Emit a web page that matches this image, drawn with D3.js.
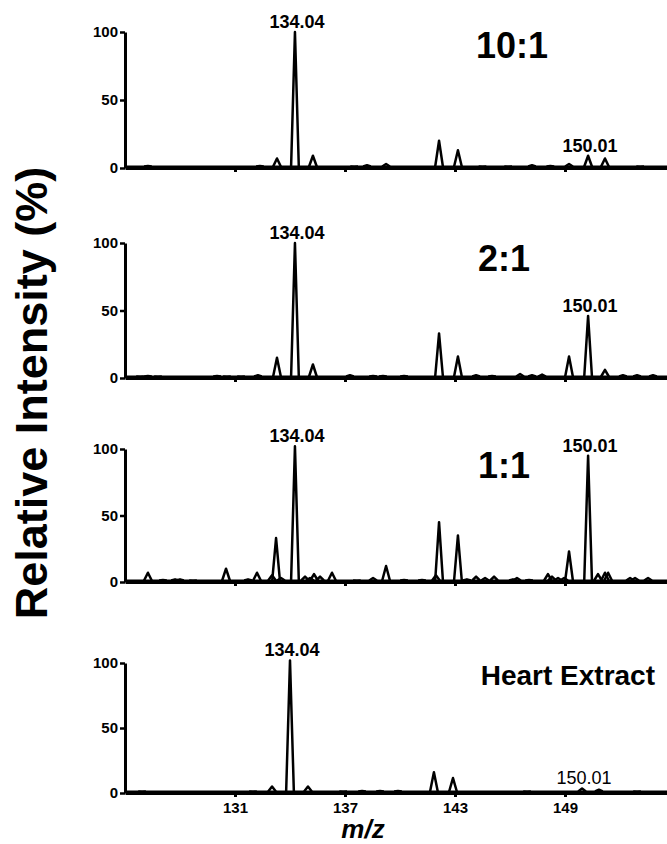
<!DOCTYPE html>
<html>
<head>
<meta charset="utf-8">
<script src="https://cdn.jsdelivr.net/npm/d3@7"></script>
<style>
  body { margin: 0; background: #fff; }
  svg { display: block; font-family: "Liberation Sans", Arial, sans-serif; }
</style>
</head>
<body>
<div class="canvas"></div>
<script>
// ---- data: [m/z, relative intensity %]
const mzTicks = [131, 137, 143, 149];
const intensityTicks = [0, 50, 100];
const panelNames = ["10:1", "2:1", "1:1", "Heart Extract"];

const peaks10to1 = [
    [126.25, 1.5], [132.36, 1.5], [133.29, 7], [134.27, 100], [135.25, 9],
    [137.5, 1], [138.2, 2], [139.24, 3], [142.13, 20], [143.16, 13],
    [144.5, 1], [145.9, 1], [147.2, 2], [148.2, 1.5], [149.22, 3],
    [150.26, 9], [151.18, 7], [153.1, 1]
];
const peaks2to1 = [
    [125.82, 1], [126.25, 1.5], [126.8, 1], [130.02, 1.5], [130.56, 1],
    [131.33, 1], [132.25, 2], [133.29, 15], [134.27, 100], [135.25, 10],
    [137.27, 2], [138.53, 1.5], [139.07, 1.5], [140.22, 1.5], [142.13, 33],
    [143.16, 16], [144.15, 2], [145.02, 1.5], [146.55, 3], [147.2, 2],
    [147.75, 2.5], [149.22, 16], [150.26, 46], [151.18, 6], [152.16, 2],
    [152.93, 2], [153.8, 2]
];
const peaks1to1 = [
    [126.25, 7], [127.07, 1.5], [127.73, 2], [128.0, 2], [128.71, 1],
    [130.51, 10], [131.71, 2], [132.2, 7], [133.02, 5], [133.24, 33],
    [133.51, 3], [134.27, 102], [134.82, 4], [135.09, 3], [135.31, 6],
    [135.64, 4], [136.29, 7], [137.65, 1], [138.53, 3], [139.24, 12],
    [140.22, 1.5], [141.2, 1.5], [141.96, 5], [142.13, 45], [143.16, 35],
    [143.65, 2], [144.15, 4], [144.64, 3], [145.13, 4], [146.16, 2],
    [146.38, 3], [147.04, 1.5], [148.07, 6], [148.29, 4], [148.62, 3],
    [148.95, 3], [149.22, 23], [150.26, 95], [150.8, 6], [151.18, 7],
    [151.35, 7], [152.55, 3], [152.82, 3], [153.53, 3]
];
const peaksHeart = [
    [125.93, 1], [131.98, 1], [133.02, 5], [134.0, 102], [134.98, 5],
    [136.9, 1], [137.93, 1.5], [138.91, 1.5], [139.89, 1.5], [141.85, 16],
    [142.89, 11.5], [146.93, 1], [149.93, 3.5], [150.85, 2.5], [152.93, 1]
];
const panelPeaks = [peaks10to1, peaks2to1, peaks1to1, peaksHeart];

// labelled peaks per panel: [m/z of peak, label]
const labels10to1 = [[134.27, "134.04"], [150.26, "150.01"]];
const labels2to1 = [[134.27, "134.04"], [150.26, "150.01"]];
const labels1to1 = [[134.27, "134.04"], [150.26, "150.01"]];
const labelsHeart = [[134.0, "134.04"], [149.93, "150.01"]];
const panelLabels = [labels10to1, labels2to1, labels1to1, labelsHeart];

// ---- layout
const width = 667, height = 844;
const panelLayout = [
    { top: 32, bottom: 168, titleX: 512, titleY: 58, titleSize: 36, anchor: "middle" },
    { top: 243, bottom: 378, titleX: 504, titleY: 271, titleSize: 36, anchor: "middle" },
    { top: 449, bottom: 582, titleX: 504, titleY: 478, titleSize: 36, anchor: "middle" },
    { top: 663, bottom: 793, titleX: 655, titleY: 685, titleSize: 28, anchor: "end" },
];
const peakHalfWidth = 0.21;
const lineWidth = 2.5;

const svg = d3
    .select(".canvas")
    .append("svg")
    .attr("width", width)
    .attr("height", height);

const x = d3.scaleLinear().domain([125, 155]).range([125, 675]);

const lineGen = d3
    .line()
    .x((d) => x(d[0]))
    .y((d) => d[1]);

panelLayout.forEach((p, i) => {
    const y = d3.scaleLinear().domain([0, 100]).range([p.bottom, p.top]);
    const g = svg.append("g").attr("class", "panel");

    // x axis
    const xAxis = d3
        .axisBottom(x)
        .tickValues(mzTicks)
        .tickSize(4)
        .tickSizeOuter(0)
        .tickPadding(5)
        .tickFormat(i === panelLayout.length - 1 ? d3.format("d") : "");
    const xg = g
        .append("g")
        .attr("transform", `translate(0,${p.bottom})`)
        .call(xAxis);
    xg.select(".domain").attr("stroke-width", 3);
    xg.selectAll(".tick line").attr("stroke-width", 3);
    xg.selectAll("text")
        .attr("font-size", 15)
        .attr("font-weight", "bold")
        .attr("fill", "#000");

    // y axis
    const yAxis = d3
        .axisLeft(y)
        .tickValues(intensityTicks)
        .tickSize(5)
        .tickSizeOuter(0)
        .tickPadding(2);
    const yg = g.append("g").attr("transform", `translate(125,0)`).call(yAxis);
    yg.select(".domain").attr("stroke-width", 3);
    yg.selectAll(".tick line").attr("stroke-width", 2.5);
    yg.selectAll("text")
        .attr("font-size", 15)
        .attr("font-weight", "bold")
        .attr("fill", "#000");

    // baseline of spectrum
    g.append("path")
        .attr("d", lineGen([[125, p.bottom - 1.5], [155, p.bottom - 1.5]]))
        .attr("stroke", "#000")
        .attr("stroke-width", 2)
        .attr("fill", "none");

    // peaks
    g.selectAll(".peak")
        .data(panelPeaks[i])
        .enter()
        .append("path")
        .attr("class", "peak")
        .attr("d", (d) =>
            lineGen([
                [d[0] - peakHalfWidth, y(0) - 1.5],
                [d[0], y(d[1])],
                [d[0] + peakHalfWidth, y(0) - 1.5],
            ])
        )
        .attr("stroke", "#000")
        .attr("stroke-width", lineWidth)
        .attr("stroke-linejoin", "round")
        .attr("fill", "none");

    // peak labels
    g.selectAll(".plabel")
        .data(panelLabels[i])
        .enter()
        .append("text")
        .attr("class", "plabel")
        .attr("x", (d) => x(d[0]) + 2)
        .attr("y", (d) => {
            const pk = panelPeaks[i].find((q) => q[0] === d[0]);
            return y(pk[1]) - 4;
        })
        .attr("text-anchor", "middle")
        .attr("font-size", 18)
        .attr("font-weight", (d) => (i === 3 && d[1] === "150.01" ? "normal" : "bold"))
        .text((d) => d[1]);

    // panel title
    g.append("text")
        .attr("x", p.titleX)
        .attr("y", p.titleY)
        .attr("text-anchor", p.anchor)
        .attr("font-size", p.titleSize)
        .attr("font-weight", "bold")
        .text(panelNames[i]);
});

// axis titles
svg.append("text")
    .attr("transform", "translate(47,393) rotate(-90)")
    .attr("text-anchor", "middle")
    .attr("font-size", 45)
    .attr("font-weight", "bold")
    .text("Relative Intensity (%)");

svg.append("text")
    .attr("x", 363)
    .attr("y", 838)
    .attr("text-anchor", "middle")
    .attr("font-size", 26)
    .attr("font-weight", "bold")
    .attr("font-style", "italic")
    .text("m/z");
</script>
</body>
</html>
